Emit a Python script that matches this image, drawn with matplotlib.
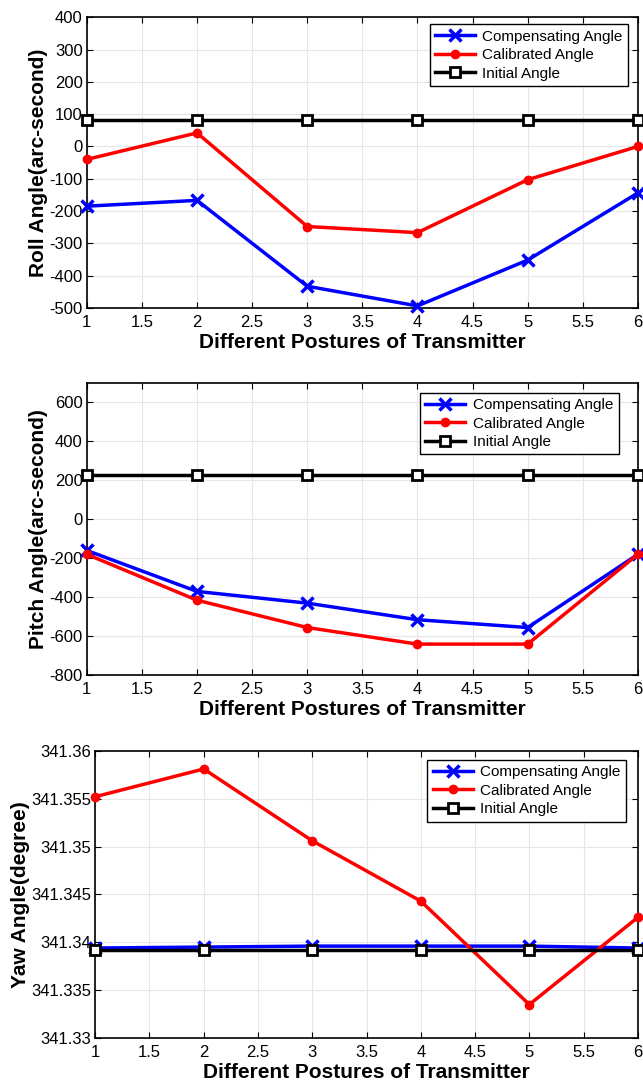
import matplotlib
matplotlib.use("Agg")
import matplotlib.pyplot as plt
from matplotlib.ticker import FuncFormatter, MultipleLocator

plt.rcParams['font.family'] = ['Liberation Sans', 'DejaVu Sans']
plt.rcParams['axes.unicode_minus'] = False

postures = [1, 2, 3, 4, 5, 6]

roll_comp = [-185, -167, -433, -494, -352, -144]
roll_cal = [-40, 42, -248, -267, -103, 0]
roll_init = [83, 83, 83, 83, 83, 83]

pitch_comp = [-160, -370, -430, -515, -555, -180]
pitch_cal = [-180, -415, -555, -640, -640, -180]
pitch_init = [228, 228, 228, 228, 228, 228]

yaw_comp = [341.3394, 341.3395, 341.3396, 341.3396, 341.3396, 341.3394]
yaw_cal = [341.3552, 341.3581, 341.3506, 341.3443, 341.3335, 341.3426]
yaw_init = [341.3392, 341.3392, 341.3392, 341.3392, 341.3392, 341.3392]

fig = plt.figure(figsize=(6.43, 10.84), dpi=100)

ax1 = fig.add_axes([0.135, 0.716, 0.857, 0.268])
ax2 = fig.add_axes([0.135, 0.377, 0.857, 0.270])
ax3 = fig.add_axes([0.148, 0.0424, 0.844, 0.265])


def draw(ax, comp, cal, init, ylabel, ylim, ystep, legpos):
    ax.plot(postures, comp, color='blue', lw=2.5, marker='x', ms=9, mew=2.5,
            label='Compensating Angle', clip_on=False, zorder=3)
    ax.plot(postures, cal, color='red', lw=2.5, marker='o', ms=6,
            label='Calibrated Angle', clip_on=False, zorder=3)
    ax.plot(postures, init, color='black', lw=2.5, marker='s', ms=7, mew=2,
            mfc='white', label='Initial Angle', clip_on=False, zorder=3)
    ax.set_xlim(1, 6)
    ax.set_ylim(*ylim)
    ax.xaxis.set_major_locator(MultipleLocator(0.5))
    ax.yaxis.set_major_locator(MultipleLocator(ystep))
    ax.xaxis.set_major_formatter(FuncFormatter(lambda v, p: '%g' % v))
    ax.grid(True, color='#e6e6e6', lw=0.8)
    ax.set_axisbelow(True)
    ax.tick_params(direction='in', top=True, right=True, labelsize=12, length=4)
    ax.tick_params(axis='x', pad=5)
    ax.tick_params(axis='y', pad=3)
    for s in ax.spines.values():
        s.set_linewidth(1.2)
    ax.set_xlabel('Different Postures of Transmitter', fontsize=15,
                  fontweight='bold', labelpad=2)
    ax.set_ylabel(ylabel, fontsize=15, fontweight='bold', labelpad=1)
    leg = ax.legend(loc='upper right', bbox_to_anchor=legpos, fontsize=11,
                    fancybox=False, edgecolor='black', framealpha=1,
                    handlelength=2.6, handletextpad=0.5, borderaxespad=0,
                    labelspacing=0.3, borderpad=0.35)
    leg.get_frame().set_linewidth(1.0)


draw(ax1, roll_comp, roll_cal, roll_init, 'Roll Angle(arc-second)',
     (-500, 400), 100, (0.982, 0.976))
draw(ax2, pitch_comp, pitch_cal, pitch_init, 'Pitch Angle(arc-second)',
     (-800, 700), 200, (0.965, 0.966))
ax2.set_yticks([-800, -600, -400, -200, 0, 200, 400, 600])
draw(ax3, yaw_comp, yaw_cal, yaw_init, 'Yaw Angle(degree)',
     (341.33, 341.36), 0.005, (0.978, 0.969))
ax3.yaxis.set_major_formatter(FuncFormatter(lambda v, p: ('%.3f' % v).rstrip('0').rstrip('.')))

fig.savefig('out.png', dpi=100)
